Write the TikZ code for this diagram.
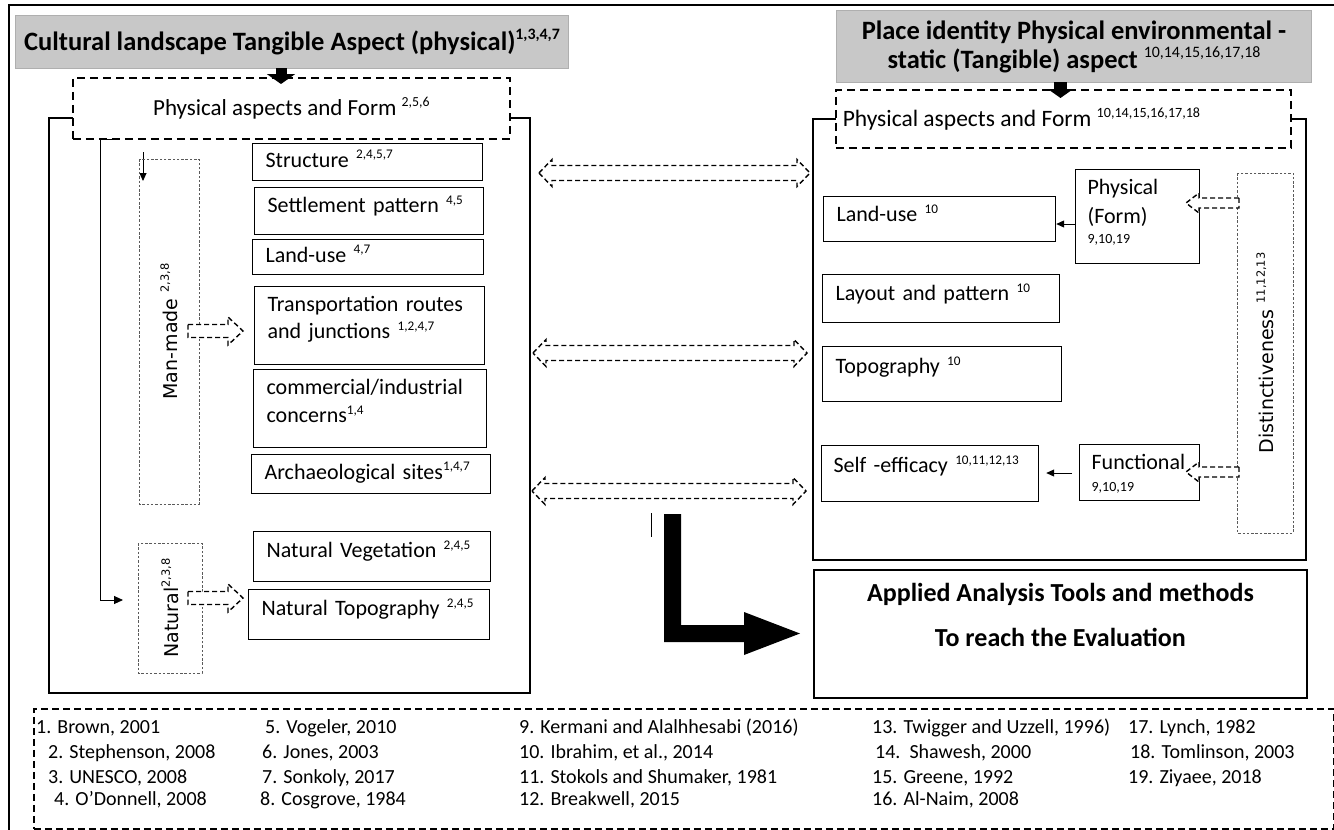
\documentclass[tikz,border=0pt]{standalone}
\usepackage{fontspec}
\setmainfont{Carlito}
\newfontfamily\djv{DejaVu Sans}
\usetikzlibrary{arrows.meta,calc}
\makeatletter
\newcommand\sups[1]{\raisebox{0.8ex}{\fontsize{\fpeval{0.6*\f@size}}{1}\selectfont #1}}
\makeatother
\newcommand\dblarr[3]{%
  \pgfmathsetmacro\arrlen{#2-#1-26}%
  \draw[dasharr] (#1,#3) -- ++(13,-13.5) -- ++(0,6) -- ++(\arrlen,0) -- ++(0,-6) -- ++(13,13.5)
    -- ++(-13,13.5) -- ++(0,-6) -- ++(-\arrlen,0) -- ++(0,6) -- cycle;}
\newcommand\blkright[3]{%
  \pgfmathsetmacro\arrlen{#2-#1-15}%
  \draw[dasharr] (#1,#3) ++(0,-6.5) -- ++(\arrlen,0) -- ++(0,-7.5) -- ++(15,14) -- ++(-15,14)
    -- ++(0,-7.5) -- ++(-\arrlen,0) -- cycle;}
\newcommand\blkleft[3]{%
  \pgfmathsetmacro\arrlen{#2-#1-13}%
  \draw[dasharr] (#2,#3) ++(0,-5) -- ++(-\arrlen,0) -- ++(0,-5) -- ++(-13,10) -- ++(13,10)
    -- ++(0,-5) -- ++(\arrlen,0) -- cycle;}
\begin{document}
\begin{tikzpicture}[x=1pt,y=-1pt,
  mainbox/.style={draw, line width=1.8pt, anchor=north west, inner sep=0pt},
  hdr/.style={draw={rgb,255:red,175;green,175;blue,175}, fill={rgb,255:red,200;green,200;blue,200},
     line width=1pt, anchor=north west, inner sep=0pt, align=center, font=\bfseries\fontsize{26.5}{29}\selectfont},
  dbox/.style={draw, fill=white, line width=1.8pt, dash pattern=on 8pt off 5pt, anchor=north west, inner sep=0pt,
     font=\fontsize{23}{26}\selectfont},
  ibox/.style={draw, line width=1.2pt, anchor=north west, inner xsep=13pt, inner ysep=0pt, align=left,
     font=\fontsize{22}{27}\selectfont, text height=15pt, text depth=5pt},
  dotbox/.style={draw={rgb,255:red,90;green,90;blue,90}, line width=0.9pt, dash pattern=on 2.5pt off 1.8pt,
     inner sep=0pt, font=\djv\fontsize{19}{22}\selectfont},
  dasharr/.style={draw, fill=white, line width=1.4pt, dash pattern=on 5pt off 3pt},
  fat/.style={line width=11pt, -{Triangle[length=10pt,width=28pt]}},
  smallarr/.style={line width=0.9pt, -{Triangle[length=8pt,width=7pt]}},
  ref/.style={anchor=base west, inner sep=0pt, font=\fontsize{20}{22}\selectfont}
]
\useasboundingbox (0,0) rectangle (1334,830);
% outer frame
\draw[line width=2pt] (9,830) -- (9,5) -- (1334,5);

% ---------------- left side ----------------
\node[mainbox, minimum width=481pt, minimum height=575pt] (leftbox) at (48,117) {};
\node[hdr, minimum width=553pt, minimum height=53pt] (hdrL) at (15,15)
  {Cultural landscape Tangible Aspect (physical)\sups{1,3,4,7}};
\node[dbox, minimum width=437pt, minimum height=61pt] (pafL) at (72,77)
  {Physical aspects and Form \sups{2,5,6}};
\draw[fat] (281,68) -- (281,84);

% connector from form box
\coordinate (cTop) at (115,139);
\coordinate (cBot) at (100,600);
\draw[line width=0.9pt, -{Triangle[length=9pt,width=8pt]}] (cTop) -- (100,139) -- (cBot) -- (123,600);
\draw[smallarr] (143,152) -- (143,181);

% dotted groups
\node[dotbox, rotate=90, minimum width=345pt, minimum height=60pt] (manmade) at (169,331.5) {Man-made \sups{2,3,8}};
\node[dotbox, rotate=90, minimum width=130pt, minimum height=64pt] (natural) at (170,608) {Natural\sups{2,3,8}};

% item boxes
\node[ibox, text width=204pt, minimum height=37pt] (structure) at (252,143) {Structure \sups{2,4,5,7}};
\node[ibox, text width=203pt, minimum height=47pt, text depth=12pt] (settle) at (254,187) {Settlement pattern \sups{4,5}};
\node[ibox, text width=205pt, minimum height=35pt] (landuseL) at (252,239) {Land-use \sups{4,7}};
\node[ibox, text width=204pt, minimum height=78pt, text depth=43pt] (transp) at (254,286)
  {Transportation routes\\and junctions \sups{1,2,4,7}};
\node[ibox, text width=207pt, minimum height=78pt, font=\fontsize{22}{28}\selectfont, text depth=43pt] (commerc) at (253,369)
  {commercial/industrial\\concerns\sups{1,4}};
\node[ibox, text width=213pt, minimum height=39pt] (archaeo) at (251,454) {Archaeological sites\sups{1,4,7}};
\node[ibox, text width=211pt, minimum height=50pt, text depth=13pt] (natveg) at (253,531) {Natural Vegetation \sups{2,4,5}};
\node[ibox, text width=215pt, minimum height=50pt, text depth=13pt] (nattopo) at (248,589) {Natural Topography \sups{2,4,5}};

\blkright{188}{243}{331}
\blkright{188}{243}{598}

% ---------------- right side ----------------
\node[mainbox, minimum width=493pt, minimum height=441pt] (rightbox) at (812,118) {};
\node[hdr, minimum width=475pt, minimum height=72pt] (hdrR) at (836,10)
  {Place identity Physical environmental -\\static (Tangible) aspect {\mdseries\sups{10,14,15,16,17,18}}};
\node[dbox, minimum width=455pt, minimum height=58pt, font=\fontsize{23.5}{26}\selectfont] (pafR) at (835,89)
  {Physical aspects and Form \sups{10,14,15,16,17,18}\hspace*{84pt}};
\draw[fat, line width=13pt, -{Triangle[length=9pt,width=25pt]}] (1060.5,82) -- (1060.5,98);

\node[dotbox, rotate=90, minimum width=360pt, minimum height=56pt] (distinct) at (1265,353) {Distinctiveness \sups{11,12,13}};

\node[ibox, text width=206pt, minimum height=45pt, text depth=10pt] (landuseR) at (823,196) {Land-use \sups{10}};
\node[ibox, text width=211pt, minimum height=48pt, text depth=11pt] (layout) at (822,274) {Layout and pattern \sups{10}};
\node[ibox, text width=213pt, minimum height=55pt, text depth=16pt] (topo) at (822,346) {Topography \sups{10}};
\node[ibox, inner xsep=12pt, text width=193pt, minimum height=56pt, text depth=17pt] (selfeff) at (821,445)
  {\mbox{Self -efficacy \sups{10,11,12,13}}};
\node[ibox, inner xsep=12pt, text width=100pt, minimum height=94pt, text depth=59pt,
  font=\fontsize{22}{29}\selectfont] (physical) at (1075,169)
  {Physical\\(Form)\\[-9pt]{\fontsize{14}{14}\selectfont 9,10,19}};
\node[ibox, inner xsep=12pt, text width=96pt, minimum height=56pt, text depth=21pt,
  font=\fontsize{22}{29}\selectfont] (functional) at (1079,444)
  {Functional\\[-7pt]{\fontsize{14}{14}\selectfont 9,10,19}};

\draw[smallarr] (physical.west |- 0,224) -- (landuseR.east |- 0,224);
\draw[smallarr] ([xshift=-7pt]functional.west |- 0,473) -- ([xshift=7pt]selfeff.east |- 0,473);

\blkleft{1186}{1239}{203}
\blkleft{1186}{1239}{472}

% double arrows between the two sides
\dblarr{539}{810}{173}
\dblarr{533}{807}{353}
\dblarr{532}{806}{491}

% ---------------- applied box & L arrow ----------------
\node[mainbox, minimum width=493pt, minimum height=128pt, align=center,
  font=\bfseries\fontsize{26}{45}\selectfont, text height=64pt, text depth=38pt] (applied) at (813,569)
  {Applied Analysis Tools and methods\\To reach the Evaluation};
\draw[line width=1pt] (651,513) -- (651,537);
\fill[black] (664,514) -- (681,514) -- (681,625) -- (744,625) -- (744,612) -- (800,633.5)
  -- (744,655) -- (744,642) -- (664,642) -- cycle;

% ---------------- references ----------------
\node[draw, line width=1.6pt, dash pattern=on 7pt off 4pt, anchor=north west, inner sep=0pt,
  minimum width=1300pt, minimum height=120pt] (refs) at (33,708) {};
\node[ref] at (36,733) {1. Brown, 2001};
\node[ref] at (48,758) {2. Stephenson, 2008};
\node[ref] at (48,783) {3. UNESCO, 2008};
\node[ref] at (54,805) {4. O'Donnell, 2008};
\node[ref] at (265,733) {5. Vogeler, 2010};
\node[ref] at (262,758) {6. Jones, 2003};
\node[ref] at (262,783) {7. Sonkoly, 2017};
\node[ref] at (260,805) {8. Cosgrove, 1984};
\node[ref] at (519,733) {9. Kermani and Alalhhesabi (2016)};
\node[ref] at (519,758) {10. Ibrahim, et al., 2014};
\node[ref] at (519,783) {11. Stokols and Shumaker, 1981};
\node[ref] at (519,805) {12. Breakwell, 2015};
\node[ref] at (872,733) {13. Twigger and Uzzell, 1996)};
\node[ref] at (875,758) {14.\ \ Shawesh, 2000};
\node[ref] at (872,783) {15. Greene, 1992};
\node[ref] at (872,805) {16. Al-Naim, 2008};
\node[ref] at (1128,733) {17. Lynch, 1982};
\node[ref] at (1130,758) {18. Tomlinson, 2003};
\node[ref] at (1128,783) {19. Ziyaee, 2018};
\end{tikzpicture}
\end{document}
